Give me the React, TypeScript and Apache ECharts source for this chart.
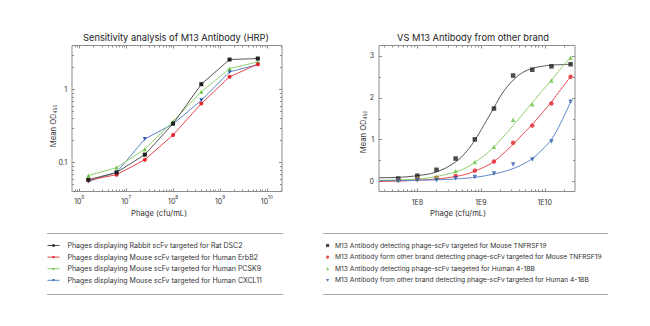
import React, { useEffect, useRef } from 'react';
import * as echarts from 'echarts';

// ---------- Left chart data (Sensitivity analysis, log-log) ----------
const leftPhage = [1.5625e6, 6.25e6, 2.5e7, 1e8, 4e8, 1.6e9, 6.4e9];
const leftRatDSC2 = [0.058, 0.073, 0.128, 0.34, 1.18, 2.57, 2.65];
const leftHumanErbB2 = [0.057, 0.068, 0.109, 0.238, 0.64, 1.49, 2.22];
const leftHumanPCSK9 = [0.066, 0.085, 0.152, 0.366, 0.93, 1.93, 2.38];
const leftHumanCXCL11 = [0.055, 0.073, 0.21, 0.336, 0.71, 1.74, 2.19];
const leftNames = [
  'Phages displaying Rabbit scFv targeted for Rat DSC2',
  'Phages displaying Mouse scFv targeted for Human ErbB2',
  'Phages displaying Mouse scFv targeted for Human PCSK9',
  'Phages displaying Mouse scFv targeted for Human CXCL11',
];
const leftXLabels = [1e6, 1e7, 1e8, 1e9, 1e10];
const leftYLabels = [0.1, 1];

// ---------- Right chart data (VS other brand) ----------
const rightPhage = [5e7, 1e8, 2e8, 4e8, 8e8, 1.6e9, 3.2e9, 6.4e9, 1.28e10, 2.56e10];
const rightMouseOurs = [0.06, 0.13, 0.27, 0.54, 1.0, 1.74, 2.53, 2.67, 2.75, 2.8];
const rightMouseOther = [0.02, 0.05, 0.08, 0.12, 0.25, 0.47, 0.92, 1.33, 1.86, 2.5];
const rightHumanOurs = [0.03, 0.07, 0.1, 0.24, 0.46, 0.82, 1.47, 1.84, 2.41, 2.96];
const rightHumanOther = [0.01, 0.02, 0.02, 0.07, 0.1, 0.18, 0.4, 0.52, 0.95, 1.9];
// fitted curves
const curvePhage = [2.5e7, 5e7, 1e8, 2e8, 4e8, 6e8, 8e8, 1.1e9, 1.6e9, 2.2e9, 3.2e9, 4.5e9, 6.4e9, 9e9, 1.28e10, 1.8e10, 2.56e10];
const curveMouseOurs = [0.08, 0.09, 0.13, 0.22, 0.46, 0.72, 0.98, 1.33, 1.76, 2.12, 2.42, 2.6, 2.7, 2.75, 2.78, 2.79, 2.8];
const curveMouseOther = [-0.01, 0.0, 0.02, 0.05, 0.11, 0.17, 0.24, 0.33, 0.47, 0.65, 0.88, 1.12, 1.36, 1.62, 1.9, 2.2, 2.5];
const curveHumanOurs = [0.02, 0.03, 0.05, 0.11, 0.22, 0.33, 0.45, 0.6, 0.82, 1.05, 1.33, 1.6, 1.88, 2.15, 2.42, 2.7, 2.97];
const curveHumanOther = [0.01, 0.01, 0.02, 0.03, 0.05, 0.07, 0.09, 0.12, 0.17, 0.22, 0.3, 0.4, 0.54, 0.74, 1.0, 1.4, 1.9];
const rightNames = [
  'M13 Antibody detecting phage-scFv targeted for Mouse TNFRSF19',
  'M13 Antibody form other brand detecting phage-scFv targeted for Mouse TNFRSF19',
  'M13 Antibody detecting phage-scFv taegeted for Human 4-1BB',
  'M13 Antibody from other brand detecting phage-scFv targeted for Human 4-1BB',
];
const rightXLabels = [1e8, 1e9, 1e10];
const rightYLabels = [0, 1, 2, 3];
const rightYMinor = [0.5, 1.5, 2.5];

const FONT = 'Inter, "Noto Sans", sans-serif';
const AX = '#8c8c8c';
const TXT = '#333333';
const C_BLACK = '#1e1e1e';
const C_RED = '#e3262c';
const C_GREEN = '#6cc243';
const C_BLUE = '#2f5caa';
const L_BLACK = '#555555';
const L_RED = '#e8474c';
const L_GREEN = '#8fd06c';
const L_BLUE = '#5b86c9';

function logMinors(min: number, max: number): number[] {
  const out: number[] = [];
  for (let e = Math.floor(Math.log10(min)); e <= Math.ceil(Math.log10(max)); e++) {
    for (let m = 2; m <= 9; m++) {
      const v = m * Math.pow(10, e);
      if (v > min * 1.0001 && v < max * 0.9999) out.push(v);
    }
  }
  return out;
}

const pair = (xs: number[], ys: number[]) => xs.map((x, i) => [x, ys[i]]);

// ticks drawn inside the frame on both opposite sides, positioned by the axis scale
function tickSeries(grid: number, dir: 'x' | 'y', majors: number[], minors: number[], anchor: number) {
  const vals = [...majors, ...minors];
  const lens = [...majors.map(() => 3), ...minors.map(() => 2)];
  return {
    type: 'custom',
    xAxisIndex: grid,
    yAxisIndex: grid,
    silent: true,
    clip: false,
    z: 1,
    data: vals.map((v) => (dir === 'x' ? [v, anchor] : [anchor, v])),
    renderItem: (params: any, api: any) => {
      const cs = params.coordSys;
      const p = api.coord([api.value(0), api.value(1)]);
      const len = lens[params.dataIndex];
      const st = { stroke: AX, lineWidth: 1 };
      if (dir === 'x') {
        const x = Math.round(p[0]) + 0.5;
        const b = cs.y + cs.height;
        return {
          type: 'group',
          children: [
            { type: 'line', shape: { x1: x, y1: b, x2: x, y2: b - len }, style: st },
            { type: 'line', shape: { x1: x, y1: cs.y, x2: x, y2: cs.y + len }, style: st },
          ],
        };
      }
      const y = Math.round(p[1]) + 0.5;
      const r = cs.x + cs.width;
      return {
        type: 'group',
        children: [
          { type: 'line', shape: { x1: cs.x, y1: y, x2: cs.x + len, y2: y }, style: st },
          { type: 'line', shape: { x1: r, y1: y, x2: r - len, y2: y }, style: st },
        ],
      };
    },
  };
}

export default function App() {
  const ref = useRef<HTMLDivElement>(null);
  useEffect(() => {
    if (!ref.current) return;
    const chart = echarts.init(ref.current, undefined, { renderer: 'svg' });

    const LX = [7e5, 2.1e10];
    const LY = [0.04, 4];
    const RX = [2.5e7, 3e10];
    const RY = [-0.25, 3.25];

    const supRich = {
      b: { fontSize: 7, fontFamily: FONT, color: TXT, verticalAlign: 'bottom', lineHeight: 10 },
      s: { fontSize: 4.6, fontFamily: FONT, color: TXT, verticalAlign: 'top', lineHeight: 5 },
    };

    const baseAxis = (grid: number, type: string, ext: number[], label: any) => ({
      type,
      gridIndex: grid,
      min: ext[0],
      max: ext[1],
      axisLine: { show: false },
      axisTick: { show: false },
      minorTick: { show: false },
      splitLine: { show: false },
      axisLabel: label,
    });

    const rightIcons = ['rect', 'circle', 'triangle', 'path://M0,0L10,0L5,8.66Z'];

    const option: any = {
      animation: false,
      backgroundColor: '#ffffff',
      grid: [
        { left: 72, right: 650 - 282, top: 45.5, bottom: 326 - 191.5, show: true, borderColor: AX, borderWidth: 1, backgroundColor: 'transparent' },
        { left: 379, right: 650 - 575, top: 45.5, bottom: 326 - 191.5, show: true, borderColor: AX, borderWidth: 1, backgroundColor: 'transparent' },
      ],
      xAxis: [
        baseAxis(0, 'log', LX, {
          show: true,
          customValues: leftXLabels,
          margin: 3,
          formatter: (v: number) => `{b|10}{s|${Math.round(Math.log10(v))}}`,
          rich: supRich,
        }),
        baseAxis(1, 'log', RX, {
          show: true,
          customValues: rightXLabels,
          margin: 7,
          color: TXT,
          fontSize: 7,
          fontFamily: FONT,
          formatter: (v: number) => `1E${Math.round(Math.log10(v))}`,
        }),
      ],
      yAxis: [
        baseAxis(0, 'log', LY, {
          show: true,
          customValues: leftYLabels,
          margin: 5,
          color: TXT,
          fontSize: 7,
          fontFamily: FONT,
          formatter: (v: number) => (v >= 1 ? '1' : '0.1'),
        }),
        baseAxis(1, 'value', RY, {
          show: true,
          customValues: rightYLabels,
          margin: 5,
          color: TXT,
          fontSize: 7,
          fontFamily: FONT,
        }),
      ],
      legend: [
        {
          data: leftNames,
          orient: 'vertical',
          left: 47,
          top: 242,
          padding: 0,
          itemWidth: 12,
          itemHeight: 3,
          itemGap: 4.6,
          selectedMode: false,
          lineStyle: { width: 1 },
          textStyle: { fontSize: 7, fontFamily: FONT, color: TXT, lineHeight: 7, padding: [0, 0, 0, 3] },
        },
        {
          data: rightNames.map((n, i) => ({ name: n, icon: rightIcons[i] })),
          orient: 'vertical',
          left: 326,
          top: 242,
          padding: 0,
          itemWidth: 3.2,
          itemHeight: 3.2,
          itemGap: 4.6,
          selectedMode: false,
          textStyle: { fontSize: 6.7, fontFamily: FONT, color: TXT, lineHeight: 7, padding: [0, 0, 0, 0.8] },
        },
      ],
      graphic: [
        { type: 'text', x: 176, y: 37, style: { text: 'Sensitivity analysis of M13 Antibody (HRP)', fontSize: 9.3, fontFamily: FONT, fill: '#222', textAlign: 'center', textVerticalAlign: 'middle', align: 'center', verticalAlign: 'middle' } },
        { type: 'text', x: 473, y: 37, style: { text: 'VS M13 Antibody from other brand', fontSize: 9.3, fontFamily: FONT, fill: '#222', textAlign: 'center', textVerticalAlign: 'middle', align: 'center', verticalAlign: 'middle' } },
        { type: 'text', x: 159, y: 213, style: { text: 'Phage (cfu/mL)', fontSize: 7.7, fontFamily: FONT, fill: TXT, textAlign: 'center', textVerticalAlign: 'middle', align: 'center', verticalAlign: 'middle' } },
        { type: 'text', x: 458, y: 213, style: { text: 'Phage (cfu/mL)', fontSize: 7.7, fontFamily: FONT, fill: TXT, textAlign: 'center', textVerticalAlign: 'middle', align: 'center', verticalAlign: 'middle' } },
        {
          type: 'text', x: 53, y: 126, rotation: Math.PI / 2,
          style: {
            text: 'Mean OD{sub|450}', fontSize: 7.7, fontFamily: FONT, fill: TXT,
            textAlign: 'center', textVerticalAlign: 'middle', align: 'center', verticalAlign: 'middle',
            rich: { sub: { fontSize: 4.6, fontFamily: FONT, fill: TXT, verticalAlign: 'bottom', lineHeight: 9 } },
          },
        },
        {
          type: 'text', x: 363, y: 132, rotation: Math.PI / 2,
          style: {
            text: 'Mean OD{sub|450}', fontSize: 7.7, fontFamily: FONT, fill: TXT,
            textAlign: 'center', textVerticalAlign: 'middle', align: 'center', verticalAlign: 'middle',
            rich: { sub: { fontSize: 4.6, fontFamily: FONT, fill: TXT, verticalAlign: 'bottom', lineHeight: 9 } },
          },
        },
        { type: 'line', shape: { x1: 47, y1: 233.5, x2: 283, y2: 233.5 }, style: { stroke: '#a6a6a6', lineWidth: 1 } },
        { type: 'line', shape: { x1: 47, y1: 294.5, x2: 283, y2: 294.5 }, style: { stroke: '#a6a6a6', lineWidth: 1 } },
        { type: 'line', shape: { x1: 323, y1: 233.5, x2: 608, y2: 233.5 }, style: { stroke: '#a6a6a6', lineWidth: 1 } },
        { type: 'line', shape: { x1: 323, y1: 294.5, x2: 608, y2: 294.5 }, style: { stroke: '#a6a6a6', lineWidth: 1 } },
      ],
      series: [
        tickSeries(0, 'x', leftXLabels, logMinors(LX[0], LX[1]), 1),
        tickSeries(0, 'y', leftYLabels, logMinors(LY[0], LY[1]), 1e8),
        tickSeries(1, 'x', rightXLabels, logMinors(RX[0], RX[1]), 1),
        tickSeries(1, 'y', rightYLabels, rightYMinor, 1e9),
        // left chart
        ...[
          [leftRatDSC2, C_BLACK, L_BLACK, 'rect', 0],
          [leftHumanErbB2, C_RED, L_RED, 'circle', 0],
          [leftHumanPCSK9, C_GREEN, L_GREEN, 'triangle', 0],
          [leftHumanCXCL11, C_BLUE, L_BLUE, 'triangle', 180],
        ].map((s: any, i) => ({
          name: leftNames[i],
          type: 'line',
          xAxisIndex: 0,
          yAxisIndex: 0,
          data: pair(leftPhage, s[0]),
          symbol: s[3],
          symbolRotate: s[4],
          symbolSize: 4,
          showSymbol: true,
          itemStyle: { color: s[1] },
          lineStyle: { color: s[2], width: 1 },
          z: 3 + (3 - i),
        })),
        // right chart: fitted curves
        ...[
          [curveMouseOurs, L_BLACK],
          [curveMouseOther, L_RED],
          [curveHumanOurs, L_GREEN],
          [curveHumanOther, L_BLUE],
        ].map((s: any, i) => ({
          name: 'fit' + i,
          type: 'line',
          xAxisIndex: 1,
          yAxisIndex: 1,
          data: pair(curvePhage, s[0]),
          smooth: 0.4,
          showSymbol: false,
          symbol: 'none',
          lineStyle: { color: s[1], width: 1 },
          z: 2,
        })),
        // right chart: measured points
        ...[
          [rightMouseOurs, C_BLACK, 'rect', 0],
          [rightMouseOther, C_RED, 'circle', 0],
          [rightHumanOurs, C_GREEN, 'triangle', 0],
          [rightHumanOther, C_BLUE, 'triangle', 180],
        ].map((s: any, i) => ({
          name: rightNames[i],
          type: 'scatter',
          xAxisIndex: 1,
          yAxisIndex: 1,
          data: pair(rightPhage, s[0]),
          symbol: s[2],
          symbolRotate: s[3],
          symbolSize: 4.5,
          itemStyle: { color: s[1] },
          z: 4,
        })),
      ],
    };
    chart.setOption(option);
    return () => chart.dispose();
  }, []);
  return <div ref={ref} style={{ width: 650, height: 326, position: 'absolute', left: 0, top: 0 }} />;
}
